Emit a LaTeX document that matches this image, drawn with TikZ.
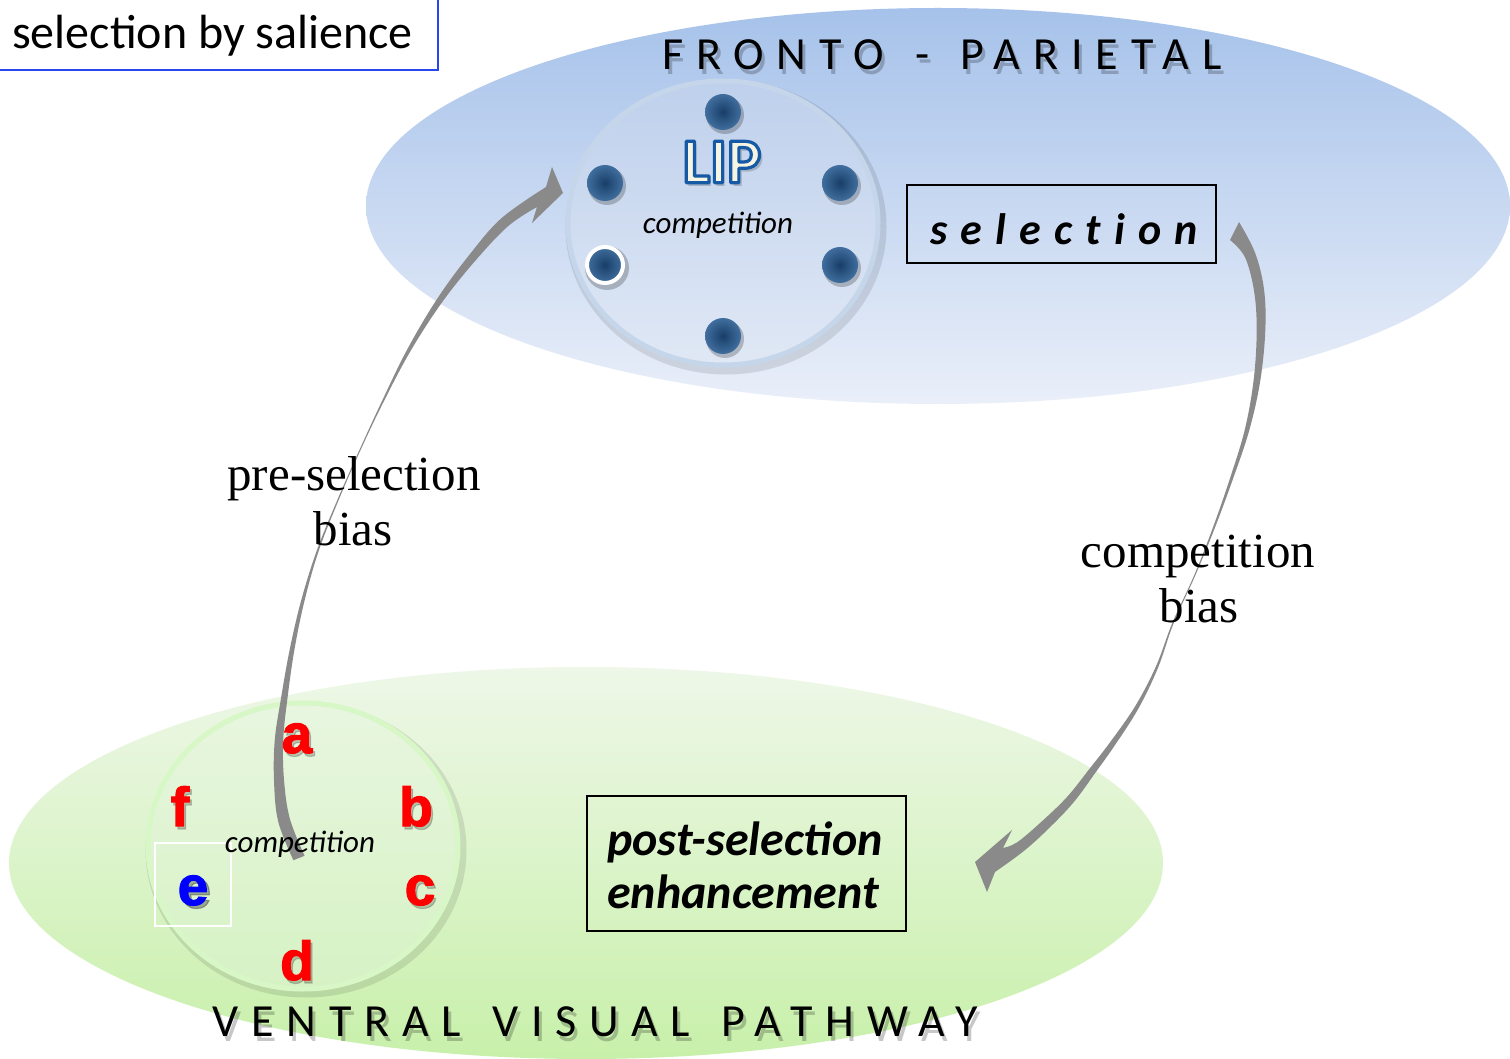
\documentclass[tikz,border=0pt]{standalone}
\usepackage{fontspec}
\setmainfont{Carlito}
\newfontfamily\labelserif{Liberation Serif}
\newfontfamily\letterfont{Liberation Sans}
\usetikzlibrary{shapes.geometric}

\definecolor{fpTop}{RGB}{166,194,234}
\definecolor{fpBot}{RGB}{234,239,249}
\definecolor{vvTop}{RGB}{238,247,232}
\definecolor{vvBot}{RGB}{200,240,170}
\definecolor{lipTop}{RGB}{190,208,236}
\definecolor{lipBot}{RGB}{224,232,245}
\definecolor{lipRing}{RGB}{198,214,234}
\definecolor{vvRing}{RGB}{216,247,198}
\definecolor{vvInTop}{RGB}{232,246,224}
\definecolor{vvInBot}{RGB}{214,242,196}
\definecolor{dotIn}{RGB}{24,62,104}
\definecolor{dotOut}{RGB}{64,110,158}
\definecolor{arrowgray}{RGB}{138,138,138}
\definecolor{lipCream}{RGB}{246,244,226}
\definecolor{tagBlue}{RGB}{40,70,240}
\definecolor{itemRed}{RGB}{255,0,0}
\definecolor{itemBlue}{RGB}{0,0,255}

% outlined lettering: cream fill, blue stroke
\newcommand{\outlinedtext}[1]{{\color{lipCream}\special{pdf:literal direct 0.086 0.353 0.651 RG 3.2 w 1 j 2 Tr}#1\special{pdf:literal direct 0 Tr 0.4 w}}}
\newcommand{\wordgap}{\hspace{8pt}}

\tikzset{
  region/.style={ellipse, inner sep=0},
  arena/.style={ellipse, inner sep=0, line width=5},
  unit/.style={circle, inner sep=0, minimum size=36, inner color=dotIn, outer color=dotOut},
  unitshadow/.style={circle, inner sep=0, minimum size=38, fill=black, opacity=.22},
  stagebox/.style={draw=black, line width=1.5, inner sep=0},
  heading/.style={anchor=base west, inner sep=0, font=\fontsize{46}{55}\selectfont\addfontfeatures{LetterSpace=28}},
  headshadow/.style={heading, text=black, text opacity=.22},
  biaslabel/.style={anchor=base, inner sep=0, font=\labelserif\fontsize{49}{59}\selectfont},
  compete/.style={anchor=base, inner sep=0, font=\fontsize{31}{37}\selectfont\itshape},
  item/.style={anchor=base, inner sep=0, font=\letterfont\bfseries\fontsize{55}{66}\selectfont\addfontfeatures{FakeBold=2}},
  tapered/.style={fill=arrowgray}
}

\begin{document}
\begin{tikzpicture}[x=1pt,y=-1pt]
\useasboundingbox (0,0) rectangle (1510,1059);
\fill[white] (0,0) rectangle (1510,1059);

% the two cortical regions
\node (fp) [region, minimum width=1144, minimum height=396, top color=fpTop, bottom color=fpBot] at (938,206) {};
\node (vv) [region, minimum width=1154, minimum height=392, top color=vvTop, bottom color=vvBot] at (586,863) {};

% LIP competition arena
\draw[black, opacity=.10, line width=9] (726,227) ellipse [x radius=156, y radius=143];
\node (lip) [arena, draw=lipRing, minimum width=310, minimum height=284, top color=lipTop, bottom color=lipBot] at (723,223) {};

% ventral competition arena
\draw[black, opacity=.10, line width=9] (306,850) ellipse [x radius=156, y radius=143];
\node (ven) [arena, draw=vvRing, minimum width=310, minimum height=286, top color=vvInTop, bottom color=vvInBot] at (303,846) {};

% LIP units
\foreach \n/\ux/\uy in {u1/723/112, u2/605/183, u3/840/183, u5/840/265, u6/723/336}{
  \node[unitshadow] at (\ux+2,\uy+3) {};
  \node[unit] (\n) at (\ux,\uy) {};
}
\node[unitshadow, minimum size=44] at (607,268) {};
\node[unit, draw=white, line width=4] (u4) at (605,265) {};

% LIP label
\node[inner sep=0, text=black, text opacity=.18, font=\fontsize{64}{72}\selectfont\bfseries] at (725,166) {LIP};
\node (liplabel) [inner sep=0, font=\fontsize{64}{72}\selectfont\bfseries] at (722,162) {\outlinedtext{LIP}};

\node (lipcomp) [compete] at (718,234) {competition};

% selection box
\node (sel) [stagebox, minimum width=309, minimum height=78] at (1061.5,224) {};
\node (seltext) [anchor=base west, inner sep=0, font=\fontsize{44}{52}\selectfont\bfseries\itshape\addfontfeatures{LetterSpace=30,Ligatures=NoCommon}] at (930,245) {selection};

% post-selection box
\node (post) [stagebox, minimum width=319, minimum height=135] at (746.5,863.5) {};
\node (post1) [anchor=base west, inner sep=0, font=\fontsize{48}{57}\selectfont\bfseries\itshape] at (607,855) {post-selection};
\node (post2) [anchor=base west, inner sep=0, font=\fontsize{48}{57}\selectfont\bfseries\itshape] at (607,908) {enhancement};

% region titles with soft shadow
\node[headshadow] at (665,75) {FRONTO\wordgap{} -\wordgap{} PARIETAL};
\node[headshadow] at (215,1041) {VENTRAL\wordgap{} VISUAL\wordgap{} PATHWAY};
\node (fptitle) [heading] at (662,70) {FRONTO\wordgap{} -\wordgap{} PARIETAL};
\node (vvtitle) [heading] at (212,1036) {VENTRAL\wordgap{} VISUAL\wordgap{} PATHWAY};

% tapered arrow: ventral competition -> LIP
\fill[tapered] plot[smooth, tension=.6] coordinates {(293.4,860.2) (278.2,821.5) (274,780.3) (274.8,739.7) (280.8,699.6) (289.7,649.6) (301.4,599.6) (317.1,549.7) (337.4,499.8) (359.5,449.8) (382.2,400.6) (407.4,349.1) (437.5,298.3) (469.8,254.3) (501.6,218.1) (546,187)}
  -- (552,167) -- (563,193) -- (532,223) --
  plot[smooth, tension=.6] coordinates {(537,207) (508.4,225.9) (476.2,259.7) (442.5,301.7) (410.6,350.9) (383.8,401.4) (360.5,450.2) (338.6,500.2) (318.9,550.3) (304.6,600.4) (294.3,650.4) (287.2,700.4) (283.2,740.3) (284,779.7) (289.8,818.5) (304.6,855.8)} -- cycle;

% tapered arrow: selection -> post-selection enhancement
\fill[tapered] plot[smooth, tension=.6] coordinates {(1239,222) (1255.1,252.9) (1264,289.3) (1265.3,330.1) (1260.3,380.5) (1249.2,430.5) (1232.4,480.5) (1213.9,530.3) (1194.5,577.2) (1173.6,623.3) (1158.1,667.5) (1138.7,708) (1115.3,744.6) (1095.8,772.1) (1073.2,802.8) (1046.4,830.7) (1023.2,851.5) (995,872)}
  -- (987,892) -- (975,862) -- (1012,830) --
  plot[smooth, tension=.6] coordinates {(1003,848) (1016.8,842.5) (1039.6,823.4) (1066.8,797.2) (1090.2,767.9) (1110.7,741.4) (1135.3,706) (1155.9,666.5) (1172.4,622.7) (1193.5,576.8) (1212.1,529.7) (1229.6,479.5) (1244.8,429.5) (1253.7,379.5) (1256.7,329.9) (1254,290.7) (1244.9,257.1) (1230,240)} -- cycle;

% ventral items
\draw[white, line width=2] (155,843) rectangle (231,926);
\foreach \n/\t/\ux/\uy in {ia/a/297/753, ib/b/416/826, ic/c/420/905, id/d/297/980, if/f/180/826}{
  \node[item, text=black, text opacity=.2] at (\ux+2,\uy+3) {\t};
  \node (\n) [item, text=itemRed] at (\ux,\uy) {\t};
}
\node[item, text=black, text opacity=.3] at (196,908) {e};
\node (ie) [item, text=itemBlue] at (193,905) {e};

\node (vencomp) [compete] at (300,852) {competition};

% bias labels
\node (prebias1) [biaslabel] at (354,490) {pre-selection};
\node (prebias2) [biaslabel] at (353,545) {bias};
\node (compbias1) [biaslabel] at (1198,567) {competition};
\node (compbias2) [biaslabel] at (1199,622) {bias};

% mode tag
\node (tagtext) [anchor=base west, inner sep=0, font=\fontsize{48}{57}\selectfont] at (12,49) {selection by salience};
\draw[tagBlue, line width=2] (-4,-6) rectangle (438,70);
\end{tikzpicture}
\end{document}
